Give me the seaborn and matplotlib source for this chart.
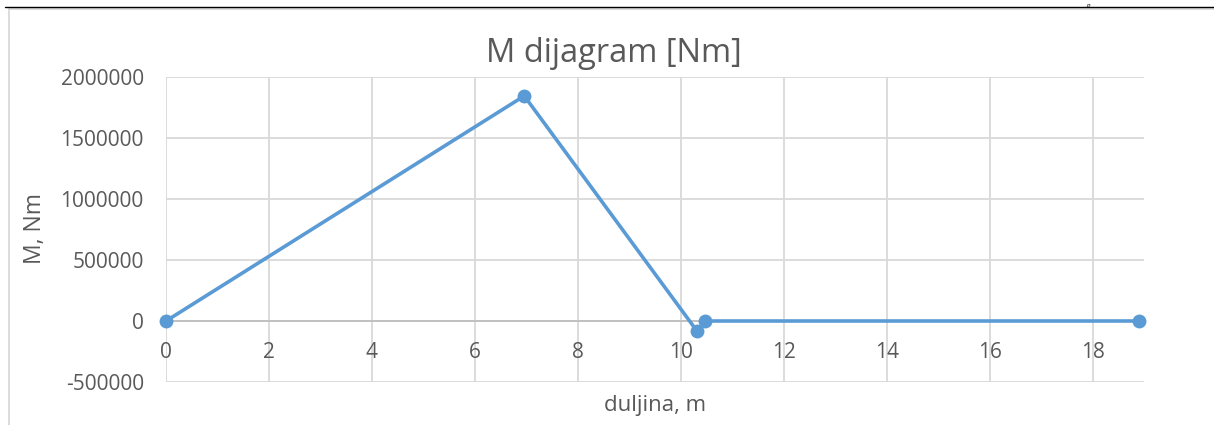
import matplotlib
matplotlib.use("Agg")
import matplotlib.pyplot as plt
import seaborn as sns
import pandas as pd
from matplotlib.lines import Line2D

# data
duljina = [0.0, 6.96, 10.32, 10.48, 18.9]
moment = [0, 1845000, -85000, 0, 0]
x_ticks = [0, 2, 4, 6, 8, 10, 12, 14, 16, 18]
y_ticks = [-500000, 0, 500000, 1000000, 1500000, 2000000]

sns.set_theme(style="white")
plt.rcParams['font.family'] = ['Open Sans', 'DejaVu Sans']

TXT = "#595959"
BLUE = "#5B9BD5"
GRID = "#D9D9D9"

fig = plt.figure(figsize=(12.14, 4.25), dpi=100)
ax = fig.add_axes([166/1214, 1-382/425, (1144-166)/1214, (382-77)/425])

df = pd.DataFrame({"duljina": duljina, "M": moment})
sns.lineplot(data=df, x="duljina", y="M", ax=ax, sort=False, color=BLUE,
             linewidth=2.6, marker="o", markersize=10, markeredgewidth=0,
             markerfacecolor=BLUE, zorder=5)
for ln in ax.lines:
    ln.set_clip_on(False)

ax.set_xlim(0, 19)
ax.set_ylim(-500000, 2000000)
ax.set_xticks(x_ticks)
ax.set_yticks(y_ticks)
ax.set_yticklabels([str(v) for v in y_ticks])
ax.grid(True, color=GRID, linewidth=1.3)
ax.set_axisbelow(True)
for s in ["top", "right", "left"]:
    ax.spines[s].set_visible(False)
ax.spines["bottom"].set_position(("data", 0))
ax.spines["bottom"].set_color("#BFBFBF")
ax.spines["bottom"].set_linewidth(1.3)
ax.spines["bottom"].set_zorder(2)
ax.tick_params(axis="both", length=0, labelsize=15, colors=TXT)
ax.tick_params(axis="x", pad=15)
ax.tick_params(axis="y", pad=16)

ax.set_xlabel("")
ax.set_ylabel("")
fig.text((166+1144)/2/1214, 1-405/425, "duljina, m", ha="center", va="center",
         fontsize=16, color=TXT)
fig.text(35/1214, 1-228/425, "M, Nm", ha="center", va="center", rotation=90,
         fontsize=16.5, color=TXT)
fig.text(614/1214, 1-54/425, "M dijagram [Nm]", ha="center", va="center",
         fontsize=23.5, color=TXT)

# chart area border and page line
fig.add_artist(Line2D([9/1214, 9/1214], [0, 1-9/425], color="#D9D9D9", linewidth=1.3,
                      transform=fig.transFigure))
fig.add_artist(Line2D([9/1214, 1], [1-9/425, 1-9/425], color="#D9D9D9", linewidth=1.3,
                      transform=fig.transFigure))
fig.add_artist(Line2D([5/1214, 1], [1-7/425, 1-7/425], color="black", linewidth=1.0,
                      transform=fig.transFigure))
fig.text(1088/1214, 1-6.5/425, "p", ha="center", va="baseline", fontsize=5,
         family="Liberation Serif", style="italic", color="black")

fig.savefig("out.png", dpi=100, facecolor="white")
